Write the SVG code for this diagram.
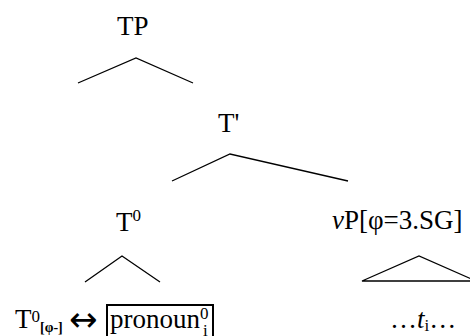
<svg xmlns="http://www.w3.org/2000/svg" width="470" height="336" viewBox="0 0 470 336">
<style>
text{font-family:'Liberation Serif','DejaVu Serif',serif;fill:#000}
.l{font-size:27px}
.sup{font-size:17px}
.sub{font-size:14px;font-weight:bold}
.e{stroke:#000;stroke-width:1.3;fill:none}
</style>
<rect width="470" height="336" fill="#fff"/>
<g id="TP"><text class="l" x="117" y="35">TP</text></g>
<g id="Tbar"><text class="l" x="218" y="132">T'</text></g>
<g id="T0"><text class="l" x="116" y="231">T<tspan class="sup" dy="-10">0</tspan></text></g>
<g id="vP"><text class="l" x="332" y="229"><tspan font-style="italic">v</tspan>P[φ=3.SG]</text></g>
<g id="T0leaf"><text class="l" x="15" y="328">T<tspan class="sup" dy="-6">0</tspan><tspan class="sub" dy="10">[φ-]</tspan></text>
<text x="69" y="331" font-size="34" style="font-family:'DejaVu Sans',sans-serif">↔</text>
<rect x="107" y="305" width="106" height="33" fill="none" stroke="#000" stroke-width="2"/>
<text class="l" x="110" y="328">pronoun<tspan class="sup" dy="-9">0</tspan><tspan class="sup" x="203" dy="17">i</tspan></text></g>
<g id="vPleaf"><text class="l" x="390" y="328">…<tspan font-style="italic">t</tspan><tspan class="sup" dy="3">i</tspan><tspan dy="-3">…</tspan></text></g>
<g id="connectors">
<polyline class="e" points="78,83 136,58 193,83"/>
<polyline class="e" points="172,181 230,154 348,181"/>
<polyline class="e" points="85,282 122,256 160,282"/>
<polygon class="e" points="362,281 419,256 476,281"/>
</g>
</svg>
